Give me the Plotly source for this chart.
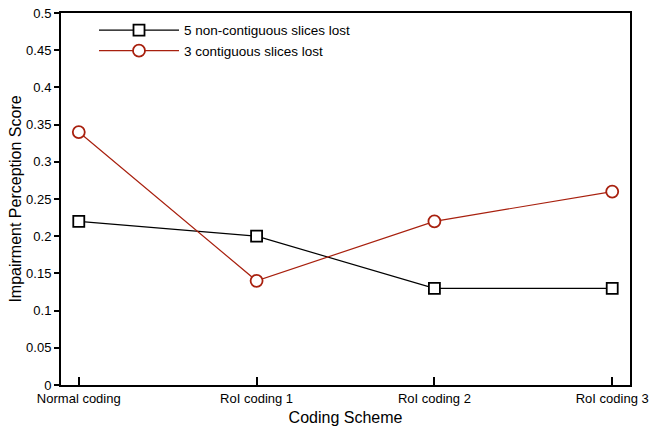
import plotly.graph_objects as go

categories = ["Normal coding", "RoI coding 1", "RoI coding 2", "RoI coding 3"]
noncontig = [0.22, 0.20, 0.13, 0.13]
contig = [0.34, 0.14, 0.22, 0.26]
yticks = [0, 0.05, 0.1, 0.15, 0.2, 0.25, 0.3, 0.35, 0.4, 0.45, 0.5]

red = "#a8200e"
xs = list(range(len(categories)))

fig = go.Figure()
fig.add_trace(go.Scatter(
    x=xs, y=noncontig, mode="lines+markers", name="5 non-contiguous slices lost",
    line=dict(color="black", width=1.2),
    marker=dict(symbol="square", size=11, color="white", line=dict(color="black", width=1.8)),
    cliponaxis=False,
))
fig.add_trace(go.Scatter(
    x=xs, y=contig, mode="lines+markers", name="3 contiguous slices lost",
    line=dict(color=red, width=1.2),
    marker=dict(symbol="circle", size=12, color="white", line=dict(color=red, width=1.8)),
    cliponaxis=False,
))

fig.update_layout(
    width=649, height=427,
    margin=dict(l=61, r=19, t=13, b=42, autoexpand=False),
    plot_bgcolor="white", paper_bgcolor="white",
    font=dict(family="Liberation Sans, Arial, sans-serif", color="black", size=13),
    showlegend=True,
    legend=dict(x=0.058, y=0.995, xanchor="left", yanchor="top", bgcolor="rgba(0,0,0,0)",
                font=dict(size=13.5), tracegroupgap=0, itemwidth=80),
    xaxis=dict(
        range=[-0.1, 3.1], tickmode="array", tickvals=xs, ticktext=categories,
        ticks="inside", ticklen=8, tickwidth=1.5, tickcolor="black",
        showline=True, linecolor="black", linewidth=2, mirror=True,
        showgrid=False, zeroline=False, automargin=False,
        ticklabeloverflow="allow",
        title=dict(text="Coding Scheme", font=dict(size=16), standoff=7),
        tickfont=dict(size=13),
    ),
    yaxis=dict(
        range=[0, 0.5], tickmode="array", tickvals=yticks,
        ticktext=[("%g" % v) for v in yticks],
        ticks="outside", ticklen=5, tickwidth=1.5, tickcolor="black",
        showline=True, linecolor="black", linewidth=2, mirror=True,
        showgrid=False, zeroline=False, automargin=False,
        ticklabeloverflow="allow",
        title=dict(text="Impairment Perception Score", font=dict(size=16), standoff=0),
        tickfont=dict(size=13),
    ),
)

fig.write_html("out.html", config={"displayModeBar": False},
               post_script="document.body.style.margin='0';document.body.style.overflow='hidden';")
